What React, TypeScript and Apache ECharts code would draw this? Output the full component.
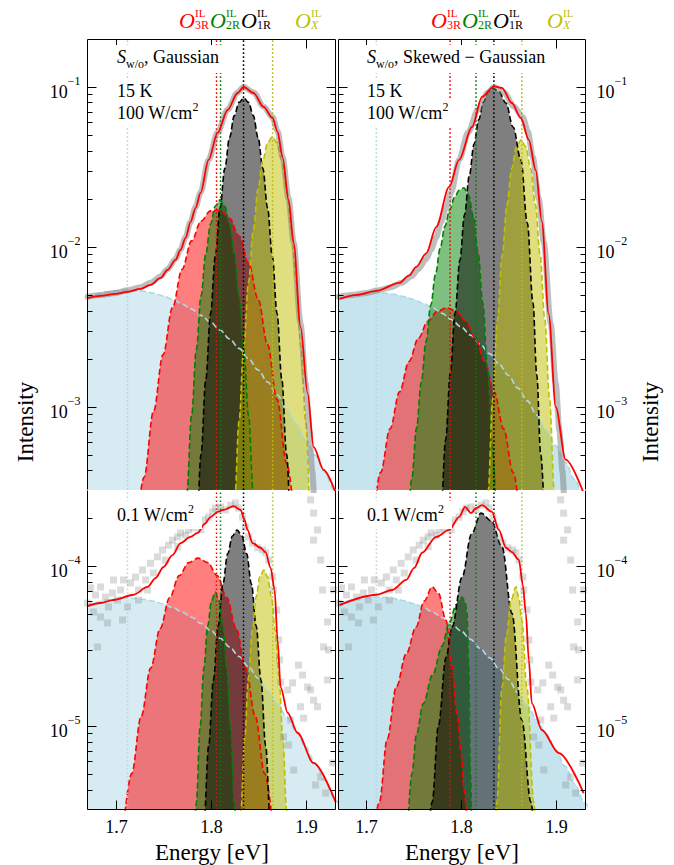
import React, { useEffect, useRef } from "react";
import * as echarts from "echarts";

const FONT = "'Liberation Serif', 'DejaVu Serif', serif";

// ---------------- axis ranges (eV, log10 intensity) ----------------
const X_MIN = 1.67;
const X_MAX = 1.932;
const TOP_MIN = -3.52;
const TOP_MAX = -0.7;
const BOT_MIN = -5.525;
const BOT_MAX = -3.525;

const X_TICKS = [1.7, 1.8, 1.9];
const X_LABELS = ["1.7", "1.8", "1.9"];
const TOP_DECADES = [-3, -2, -1];
const BOT_DECADES = [-5, -4];
const MINOR_MULT = [2, 3, 4, 5, 6, 7, 8, 9];

// reference energies (dotted lines): blue, O3R, O2R, O1R, OX
const leftLines = [1.7126, 1.8063, 1.8105, 1.8347, 1.8653];
const rightLines = [1.7105, 1.7884, 1.8158, 1.8347, 1.8642];

// ---------------- broad background component ----------------
const blueE = [1.67, 1.68, 1.69, 1.7, 1.71, 1.72, 1.73, 1.74, 1.75, 1.76, 1.77, 1.78, 1.79, 1.8, 1.81, 1.82, 1.83, 1.84, 1.85, 1.86, 1.87, 1.88, 1.89, 1.9, 1.91, 1.92, 1.93, 1.94];
const tlBlue = [4.82e-3, 5.05e-3, 5.22e-3, 5.33e-3, 5.38e-3, 5.36e-3, 5.28e-3, 5.14e-3, 4.94e-3, 4.69e-3, 4.40e-3, 4.08e-3, 3.73e-3, 3.38e-3, 3.02e-3, 2.66e-3, 2.32e-3, 2.00e-3, 1.70e-3, 1.43e-3, 1.19e-3, 9.74e-4, 7.89e-4, 6.31e-4, 4.99e-4, 3.90e-4, 3.01e-4, 2.30e-4];
const blBlue = [5.65e-5, 5.92e-5, 6.12e-5, 6.25e-5, 6.31e-5, 6.28e-5, 6.19e-5, 6.02e-5, 5.79e-5, 5.50e-5, 5.16e-5, 4.78e-5, 4.37e-5, 3.96e-5, 3.54e-5, 3.12e-5, 2.72e-5, 2.34e-5, 1.99e-5, 1.68e-5, 1.39e-5, 1.14e-5, 9.25e-6, 7.40e-6, 5.85e-6, 4.57e-6, 3.53e-6, 2.70e-6];
const trBlue = [4.67e-3, 4.88e-3, 5.03e-3, 5.12e-3, 5.16e-3, 5.13e-3, 5.04e-3, 4.89e-3, 4.69e-3, 4.44e-3, 4.15e-3, 3.84e-3, 3.50e-3, 3.16e-3, 2.81e-3, 2.47e-3, 2.15e-3, 1.85e-3, 1.57e-3, 1.31e-3, 1.09e-3, 8.88e-4, 7.17e-4, 5.72e-4, 4.51e-4, 3.51e-4, 2.70e-4, 2.05e-4];
const brBlue = [5.79e-5, 6.05e-5, 6.24e-5, 6.35e-5, 6.40e-5, 6.36e-5, 6.25e-5, 6.06e-5, 5.82e-5, 5.51e-5, 5.15e-5, 4.76e-5, 4.34e-5, 3.92e-5, 3.48e-5, 3.06e-5, 2.67e-5, 2.29e-5, 1.95e-5, 1.62e-5, 1.35e-5, 1.10e-5, 8.89e-6, 7.09e-6, 5.59e-6, 4.35e-6, 3.35e-6, 2.54e-6];

// ---------------- top-left (Gaussian, 100 W/cm2) ----------------
const tlRedE = [1.72, 1.73, 1.74, 1.75, 1.76, 1.77, 1.78, 1.79, 1.8, 1.81, 1.82, 1.83, 1.84, 1.85, 1.86, 1.87, 1.88, 1.89];
const tlRed = [1.23e-4, 3.63e-4, 9.38e-4, 2.12e-3, 4.18e-3, 7.23e-3, 1.09e-2, 1.45e-2, 1.68e-2, 1.70e-2, 1.51e-2, 1.17e-2, 7.94e-3, 4.72e-3, 2.45e-3, 1.11e-3, 4.44e-4, 1.55e-4];
const tlGreenE = [1.77, 1.775, 1.78, 1.785, 1.79, 1.795, 1.8, 1.805, 1.81, 1.815, 1.82, 1.825, 1.83, 1.835, 1.84, 1.845, 1.85];
const tlGreen = [7.83e-5, 2.86e-4, 8.79e-4, 2.27e-3, 4.94e-3, 9.05e-3, 1.39e-2, 1.80e-2, 1.97e-2, 1.80e-2, 1.39e-2, 9.05e-3, 4.94e-3, 2.27e-3, 8.79e-4, 2.86e-4, 7.83e-5];
const tlBlackE = [1.78, 1.785, 1.79, 1.795, 1.8, 1.805, 1.81, 1.815, 1.82, 1.825, 1.83, 1.835, 1.84, 1.845, 1.85, 1.855, 1.86, 1.865, 1.87, 1.875, 1.88, 1.885, 1.89];
const tlBlack = [4.01e-5, 1.52e-4, 5.05e-4, 1.48e-3, 3.83e-3, 8.73e-3, 1.75e-2, 3.10e-2, 4.83e-2, 6.62e-2, 8.01e-2, 8.53e-2, 8.01e-2, 6.62e-2, 4.83e-2, 3.10e-2, 1.75e-2, 8.73e-3, 3.83e-3, 1.48e-3, 5.05e-4, 1.52e-4, 4.01e-5];
const tlYellowE = [1.82, 1.825, 1.83, 1.835, 1.84, 1.845, 1.85, 1.855, 1.86, 1.865, 1.87, 1.875, 1.88, 1.885, 1.89, 1.895, 1.9, 1.905, 1.91];
const tlYellow = [5.64e-5, 2.33e-4, 8.15e-4, 2.41e-3, 6.04e-3, 1.28e-2, 2.30e-2, 3.49e-2, 4.48e-2, 4.87e-2, 4.48e-2, 3.49e-2, 2.30e-2, 1.28e-2, 6.04e-3, 2.41e-3, 8.15e-4, 2.33e-4, 5.64e-5];
const tlFitE = [1.6705, 1.6842, 1.7, 1.7126, 1.7263, 1.7368, 1.7474, 1.7547, 1.7632, 1.7684, 1.7737, 1.7789, 1.7842, 1.7895, 1.7979, 1.8074, 1.8179, 1.8284, 1.8347, 1.8453, 1.8558, 1.8653, 1.8705, 1.8758, 1.8821, 1.8874, 1.8947, 1.9021, 1.9084, 1.9189, 1.9316];
const tlFit = [4.79e-3, 4.94e-3, 5.08e-3, 5.24e-3, 5.46e-3, 5.79e-3, 6.40e-3, 7.18e-3, 8.30e-3, 9.57e-3, 1.14e-2, 1.43e-2, 1.75e-2, 2.18e-2, 3.50e-2, 5.16e-2, 7.18e-2, 9.17e-2, 1.0e-1, 9.17e-2, 7.50e-2, 6.40e-2, 5.25e-2, 3.63e-2, 1.97e-2, 1.06e-2, 3.16e-3, 1.22e-3, 5.62e-4, 4.04e-4, 2.90e-4];

// ---------------- top-right (skewed Gaussian, 100 W/cm2) ----------------
const trRedE = [1.695, 1.705, 1.715, 1.725, 1.735, 1.745, 1.755, 1.765, 1.775, 1.785, 1.795, 1.805, 1.815, 1.825, 1.835, 1.845, 1.855, 1.865, 1.875];
const trRed = [8.28e-5, 1.88e-4, 3.89e-4, 7.29e-4, 1.24e-3, 1.92e-3, 2.69e-3, 3.43e-3, 3.96e-3, 4.16e-3, 3.96e-3, 3.43e-3, 2.69e-3, 1.92e-3, 1.24e-3, 7.29e-4, 3.89e-4, 1.88e-4, 8.28e-5];
const trGreenE = [1.738, 1.743, 1.748, 1.753, 1.758, 1.763, 1.768, 1.773, 1.778, 1.783, 1.788, 1.793, 1.798, 1.803, 1.808, 1.813, 1.818, 1.823, 1.828, 1.833, 1.838];
const trGreen = [6.82e-5, 1.62e-4, 3.58e-4, 7.40e-4, 1.43e-3, 2.56e-3, 4.31e-3, 6.75e-3, 9.86e-3, 1.35e-2, 1.71e-2, 2.04e-2, 2.26e-2, 2.34e-2, 2.11e-2, 1.55e-2, 9.20e-3, 4.46e-3, 1.75e-3, 5.61e-4, 1.46e-4];
const trBlackE = [1.7737, 1.7787, 1.7837, 1.7887, 1.7937, 1.7987, 1.8037, 1.8087, 1.8137, 1.8187, 1.8237, 1.8287, 1.8337, 1.84, 1.8474, 1.855, 1.8632, 1.87, 1.876, 1.88, 1.8842, 1.889];
const trBlack = [6.70e-5, 2.15e-4, 6.22e-4, 1.63e-3, 3.85e-3, 8.24e-3, 1.59e-2, 2.78e-2, 4.39e-2, 6.25e-2, 8.05e-2, 9.38e-2, 9.86e-2, 9.33e-2, 7.94e-2, 5.62e-2, 3.50e-2, 1.41e-2, 4.47e-3, 1.58e-3, 5.01e-4, 1.41e-4];
const trYellowE = [1.8235, 1.8285, 1.8335, 1.8385, 1.8435, 1.8485, 1.8535, 1.8585, 1.8635, 1.8685, 1.8735, 1.8785, 1.8835, 1.8885, 1.8935, 1.8985, 1.9035];
const trYellow = [6.17e-5, 2.92e-4, 1.12e-3, 3.51e-3, 8.91e-3, 1.84e-2, 3.09e-2, 4.22e-2, 4.68e-2, 4.22e-2, 3.09e-2, 1.84e-2, 8.91e-3, 3.51e-3, 1.12e-3, 2.92e-4, 6.17e-5];
const trFitE = [1.6716, 1.69, 1.7105, 1.7347, 1.745, 1.7526, 1.7632, 1.7737, 1.7874, 1.7979, 1.8116, 1.8221, 1.8347, 1.8432, 1.8537, 1.8632, 1.8716, 1.8789, 1.8853, 1.8926, 1.9, 1.9105, 1.9295];
const trFit = [4.73e-3, 5.01e-3, 5.31e-3, 5.96e-3, 6.61e-3, 7.50e-3, 9.12e-3, 1.33e-2, 2.37e-2, 3.50e-2, 5.62e-2, 8.66e-2, 1.01e-1, 9.86e-2, 7.94e-2, 6.40e-2, 4.67e-2, 3.02e-2, 1.45e-2, 3.80e-3, 1.0e-3, 4.68e-4, 2.88e-4];

// ---------------- bottom-left (Gaussian, 0.1 W/cm2) ----------------
const blRedE = [1.707, 1.717, 1.727, 1.737, 1.747, 1.757, 1.767, 1.777, 1.787, 1.797, 1.807, 1.817, 1.827, 1.837, 1.847, 1.857, 1.867];
const blRed = [1.95e-6, 5.04e-6, 1.15e-5, 2.30e-5, 4.07e-5, 6.35e-5, 8.71e-5, 1.05e-4, 1.12e-4, 1.05e-4, 8.71e-5, 6.35e-5, 4.07e-5, 2.30e-5, 1.15e-5, 5.04e-6, 1.95e-6];
const blGreenE = [1.781, 1.785, 1.789, 1.793, 1.797, 1.801, 1.805, 1.809, 1.813, 1.817, 1.821, 1.825, 1.829];
const blGreen = [8.64e-7, 3.29e-6, 9.83e-6, 2.30e-5, 4.23e-5, 6.09e-5, 6.88e-5, 6.09e-5, 4.23e-5, 2.30e-5, 9.83e-6, 3.29e-6, 8.64e-7];
const blBlackE = [1.788, 1.793, 1.798, 1.803, 1.808, 1.813, 1.818, 1.823, 1.828, 1.833, 1.838, 1.843, 1.848, 1.853, 1.858, 1.863, 1.868];
const blBlack = [6.68e-7, 2.44e-6, 7.50e-6, 1.94e-5, 4.22e-5, 7.72e-5, 1.19e-4, 1.54e-4, 1.68e-4, 1.54e-4, 1.19e-4, 7.72e-5, 4.22e-5, 1.94e-5, 7.50e-6, 2.44e-6, 6.68e-7];
const blYellowE = [1.828, 1.832, 1.836, 1.84, 1.844, 1.848, 1.852, 1.856, 1.86, 1.864, 1.868, 1.872, 1.876, 1.88, 1.884];
const blYellow = [8.64e-7, 3.0e-6, 8.61e-6, 2.04e-5, 3.99e-5, 6.44e-5, 8.58e-5, 9.44e-5, 8.58e-5, 6.44e-5, 3.99e-5, 2.04e-5, 8.61e-6, 3.0e-6, 8.64e-7];
const blFitE = [1.6705, 1.6842, 1.6979, 1.7189, 1.7337, 1.7421, 1.7505, 1.76, 1.7684, 1.7789, 1.7863, 1.7937, 1.8, 1.8074, 1.8137, 1.8242, 1.8316, 1.8358, 1.8389, 1.8442, 1.8526, 1.8579, 1.8632, 1.8674, 1.8705, 1.8737, 1.8811, 1.8916, 1.9084, 1.9316];
const blFit = [5.62e-5, 5.87e-5, 6.13e-5, 6.61e-5, 7.40e-5, 8.41e-5, 9.86e-5, 1.17e-4, 1.39e-4, 1.52e-4, 1.61e-4, 1.83e-4, 2.02e-4, 2.18e-4, 2.24e-4, 2.37e-4, 2.24e-4, 1.94e-4, 1.68e-4, 1.39e-4, 1.30e-4, 1.22e-4, 9.72e-5, 7.08e-5, 3.45e-5, 1.75e-5, 1.21e-5, 9.04e-6, 5.87e-6, 3.35e-6];

// ---------------- bottom-right (skewed Gaussian, 0.1 W/cm2) ----------------
const brRedE = [1.705, 1.7137, 1.722, 1.7316, 1.742, 1.7526, 1.761, 1.7695, 1.776, 1.7842, 1.79, 1.796, 1.8, 1.8032, 1.808];
const brRed = [1.58e-6, 3.35e-6, 8.32e-6, 1.75e-5, 2.82e-5, 4.17e-5, 6.03e-5, 7.40e-5, 6.76e-5, 4.57e-5, 2.40e-5, 1.17e-5, 6.92e-6, 3.98e-6, 1.58e-6];
const brGreenE = [1.744, 1.748, 1.753, 1.76, 1.77, 1.78, 1.7874, 1.795, 1.8011, 1.8045, 1.8063, 1.808, 1.81, 1.812];
const brGreen = [2.51e-6, 5.01e-6, 8.91e-6, 1.38e-5, 2.09e-5, 3.16e-5, 4.41e-5, 5.75e-5, 6.40e-5, 5.89e-5, 5.08e-5, 2.51e-5, 5.01e-6, 1.0e-6];
const brBlackE = [1.762, 1.7695, 1.776, 1.7842, 1.7905, 1.8011, 1.811, 1.8211, 1.832, 1.8432, 1.8537, 1.8642, 1.8737, 1.88];
const brBlack = [1.0e-6, 3.35e-6, 1.0e-5, 2.69e-5, 4.17e-5, 8.51e-5, 1.58e-4, 2.14e-4, 1.91e-4, 1.32e-4, 5.08e-5, 1.09e-5, 3.35e-6, 1.26e-6];
const brYellowE = [1.834, 1.8379, 1.8432, 1.848, 1.853, 1.858, 1.861, 1.8642, 1.8695, 1.8768, 1.881];
const brYellow = [1.0e-6, 3.35e-6, 1.75e-5, 3.72e-5, 6.17e-5, 7.40e-5, 6.31e-5, 4.60e-5, 1.75e-5, 3.35e-6, 1.0e-6];
const brFitE = [1.6716, 1.7105, 1.7274, 1.7421, 1.7505, 1.7589, 1.7737, 1.7874, 1.7979, 1.8042, 1.8105, 1.8158, 1.8221, 1.8326, 1.84, 1.8474, 1.8537, 1.8611, 1.8653, 1.8684, 1.8716, 1.8747, 1.8853, 1.9032, 1.9295];
const brFit = [5.70e-5, 6.61e-5, 7.08e-5, 8.18e-5, 9.72e-5, 1.21e-4, 1.52e-4, 1.68e-4, 2.02e-4, 2.34e-4, 2.14e-4, 2.30e-4, 2.40e-4, 2.18e-4, 1.68e-4, 1.30e-4, 1.22e-4, 1.09e-4, 7.59e-5, 5.08e-5, 2.59e-5, 1.39e-5, 9.44e-6, 6.78e-6, 3.81e-6];

// ---------------- measured spectra ----------------
const topDataE = [1.6705, 1.6842, 1.7, 1.7126, 1.7263, 1.7368, 1.7474, 1.7547, 1.7632, 1.7684, 1.7737, 1.7789, 1.7842, 1.7895, 1.7979, 1.8074, 1.8179, 1.8284, 1.8347, 1.8453, 1.8558, 1.8653, 1.8705, 1.8758, 1.8821, 1.8874, 1.8947, 1.9, 1.904, 1.907, 1.909];
const topData = [4.88e-3, 5.01e-3, 5.15e-3, 5.35e-3, 5.60e-3, 5.96e-3, 6.53e-3, 7.24e-3, 8.41e-3, 9.66e-3, 1.15e-2, 1.43e-2, 1.77e-2, 2.19e-2, 3.50e-2, 5.19e-2, 7.21e-2, 9.23e-2, 1.0e-1, 9.23e-2, 7.55e-2, 6.46e-2, 5.31e-2, 3.63e-2, 2.0e-2, 1.07e-2, 3.31e-3, 1.41e-3, 7.08e-4, 3.98e-4, 2.51e-4];
const lowE = [1.6737, 1.6789, 1.6842, 1.6895, 1.6705, 1.6768, 1.6842, 1.6926, 1.6968, 1.7021, 1.7053, 1.7084, 1.6979, 1.7126, 1.7074, 1.6916, 1.6811, 1.7158, 1.7211, 1.7242, 1.7284, 1.7316, 1.7368, 1.74, 1.7442, 1.7495, 1.7526, 1.7558, 1.7242, 1.7337, 1.76, 1.7653, 1.7684, 1.7737, 1.7768, 1.7653, 1.7821, 1.7874, 1.7926, 1.7979, 1.8021, 1.7895, 1.8053, 1.8105, 1.8158, 1.8211, 1.8263, 1.8295, 1.8337, 1.8368, 1.84, 1.8442, 1.8495, 1.8547, 1.8579, 1.8611, 1.8653, 1.8663, 1.8695, 1.8716, 1.8726, 1.8737, 1.8811, 1.8863, 1.8926, 1.8968, 1.9021, 1.9053, 1.8947, 1.8979, 1.9084, 1.9126, 1.9232, 1.9242, 1.8842, 1.8768, 1.8821, 1.8874, 1.9158, 1.9105, 1.9211, 1.9284, 1.9053, 1.9084, 1.9126, 1.9084, 1.9158, 1.9179, 1.9232, 1.9189, 1.9295];
const lowI = [7.29e-5, 6.59e-5, 7.40e-5, 6.40e-5, 5.87e-5, 5.16e-5, 4.80e-5, 5.55e-5, 6.78e-5, 6.13e-5, 7.08e-5, 8.18e-5, 8.18e-5, 5.55e-5, 4.60e-5, 4.41e-5, 3.12e-5, 7.83e-5, 8.53e-5, 7.08e-5, 9.44e-5, 8.18e-5, 1.04e-4, 9.04e-5, 1.14e-4, 1.26e-4, 1.09e-4, 1.35e-4, 6.13e-5, 7.08e-5, 1.45e-4, 1.52e-4, 1.61e-4, 1.56e-4, 1.68e-4, 1.32e-4, 1.73e-4, 1.86e-4, 1.94e-4, 2.02e-4, 2.18e-4, 1.68e-4, 2.30e-4, 2.34e-4, 2.24e-4, 2.40e-4, 2.48e-4, 2.30e-4, 2.02e-4, 1.75e-4, 1.52e-4, 1.39e-4, 1.30e-4, 1.26e-4, 1.21e-4, 1.09e-4, 8.53e-5, 7.08e-5, 5.31e-5, 3.45e-5, 2.59e-5, 1.88e-5, 1.68e-5, 1.86e-5, 2.40e-5, 2.08e-5, 1.75e-5, 1.68e-5, 1.32e-5, 1.12e-5, 1.45e-5, 1.32e-5, 1.94e-5, 2.99e-5, 1.09e-5, 8.53e-6, 7.60e-6, 5.31e-6, 4.80e-6, 4.28e-6, 3.81e-6, 5.87e-6, 2.59e-4, 2.14e-4, 1.68e-4, 1.45e-4, 1.09e-4, 7.08e-5, 4.47e-5, 3.12e-5, 7.08e-5];

// ---------------- styling ----------------
const COLORS: any = { blue: "#add8e6", red: "#ff0000", green: "#008000", black: "#000000", yellow: "#bfbf00" };
const ORDER = ["blue", "red", "green", "black", "yellow"];

const PANELS: any[] = [
  {
    left: 87, top: 39, width: 249, height: 451, ymin: TOP_MIN, ymax: TOP_MAX, isTop: true, isLeft: true, blueAlpha: 0.5,
    comps: { blue: [blueE, tlBlue], red: [tlRedE, tlRed], green: [tlGreenE, tlGreen], black: [tlBlackE, tlBlack], yellow: [tlYellowE, tlYellow] },
    fit: [tlFitE, tlFit], data: [topDataE, topData], lines: leftLines,
  },
  {
    left: 338, top: 39, width: 248, height: 451, ymin: TOP_MIN, ymax: TOP_MAX, isTop: true, isLeft: false, blueAlpha: 0.7,
    comps: { blue: [blueE, trBlue], red: [trRedE, trRed], green: [trGreenE, trGreen], black: [trBlackE, trBlack], yellow: [trYellowE, trYellow] },
    fit: [trFitE, trFit], data: [topDataE, topData], lines: rightLines,
  },
  {
    left: 87, top: 490, width: 249, height: 320, ymin: BOT_MIN, ymax: BOT_MAX, isTop: false, isLeft: true, blueAlpha: 0.5,
    comps: { blue: [blueE, blBlue], red: [blRedE, blRed], green: [blGreenE, blGreen], black: [blBlackE, blBlack], yellow: [blYellowE, blYellow] },
    fit: [blFitE, blFit], data: [lowE, lowI], lines: leftLines,
  },
  {
    left: 338, top: 490, width: 248, height: 320, ymin: BOT_MIN, ymax: BOT_MAX, isTop: false, isLeft: false, blueAlpha: 0.7,
    comps: { blue: [blueE, brBlue], red: [brRedE, brRed], green: [brGreenE, brGreen], black: [brBlackE, brBlack], yellow: [brYellowE, brYellow] },
    fit: [brFitE, brFit], data: [lowE, lowI], lines: rightLines,
  },
];

const toPts = (E: number[], V: number[]) => E.map((e, i) => [e, Math.log10(V[i])]);

function decoSeries(gi: number, p: any) {
  const items: number[][] = [];
  (p.isTop ? TOP_DECADES : BOT_DECADES).forEach((d) => items.push([d, 1]));
  for (let n = Math.floor(p.ymin); n < Math.ceil(p.ymax); n++) {
    MINOR_MULT.forEach((m) => {
      const v = n + Math.log10(m);
      if (v > p.ymin + 0.012 && v < p.ymax - 0.012) items.push([v, 0]);
    });
  }
  X_TICKS.forEach((x) => items.push([x, 2]));
  items.push([0, 3]);
  return {
    type: "custom",
    xAxisIndex: gi,
    yAxisIndex: gi,
    silent: true,
    clip: false,
    z: 20,
    data: items,
    renderItem: (params: any, api: any) => {
      const v = api.value(0);
      const kind = api.value(1);
      const a = api.coord([X_MIN, p.ymax]);
      const b = api.coord([X_MAX, p.ymin]);
      const L = Math.round(a[0]) + 0.5;
      const R = Math.round(b[0]) - 0.5;
      const T = Math.round(a[1]) + 0.5;
      const B = Math.round(b[1]) - 0.5;
      const st = { stroke: "#000", lineWidth: 1 };
      const ln = (x1: number, y1: number, x2: number, y2: number) => ({ type: "line", shape: { x1, y1, x2, y2 }, style: st });
      const children: any[] = [];
      if (kind === 3) {
        children.push(ln(L, T, L, B), ln(R, T, R, B));
        if (p.isTop) children.push(ln(L, T, R, T));
        else children.push(ln(L, B, R, B));
      } else if (kind === 0 || kind === 1) {
        const y = Math.round(api.coord([X_MIN, v])[1]) + 0.5;
        const len = kind === 1 ? 9 : 5;
        children.push(ln(L, y, L + len, y), ln(R - len, y, R, y));
        if (kind === 1) {
          const txt = "{b|10}{s|\u2212" + Math.abs(Math.round(v)) + "}";
          children.push({
            type: "text",
            x: p.isLeft ? L - 7 : R + 11,
            y: y,
            style: {
              text: txt, fill: "#000", fontFamily: FONT, fontSize: 18,
              align: p.isLeft ? "right" : "left", verticalAlign: "middle",
              rich: {
                b: { fontSize: 18, fontFamily: FONT, lineHeight: 26, verticalAlign: "bottom", fill: "#000" },
                s: { fontSize: 12, fontFamily: FONT, lineHeight: 14, verticalAlign: "top", fill: "#000" },
              },
            },
          });
        }
      } else if (kind === 2) {
        const x = Math.round(api.coord([v, p.ymin])[0]) + 0.5;
        let idx = 0;
        X_TICKS.forEach((t, i) => { if (Math.abs(t - v) < 1e-6) idx = i; });
        if (p.isTop) children.push(ln(x, T, x, T + 9));
        else {
          children.push(ln(x, B - 9, x, B));
          children.push({
            type: "text", x: x, y: B + 17,
            style: { text: X_LABELS[idx], fill: "#000", fontFamily: FONT, fontSize: 18, align: "center", verticalAlign: "middle" },
          });
        }
      }
      return { type: "group", children };
    },
  };
}

function gtext(x: number, y: number, text: string, o: any = {}) {
  const align = o.align || "left";
  const va = o.va || "middle";
  const style: any = {
    text, fill: o.fill || "#000", fontFamily: FONT, fontSize: o.size || 18,
    fontStyle: o.italic ? "italic" : "normal",
    align, verticalAlign: va, textAlign: align, textVerticalAlign: va,
  };
  if (o.lh) style.lineHeight = o.lh;
  if (o.rich) style.rich = o.rich;
  return { type: "text", x, y, z: 100, rotation: o.rot || 0, style };
}
const wrect = (x: number, y: number, w: number, h: number) => ({ type: "rect", z: 99, shape: { x, y, width: w, height: h }, style: { fill: "#fff" } });

function buildOption() {
  const grid: any[] = [];
  const xAxis: any[] = [];
  const yAxis: any[] = [];
  const series: any[] = [];
  PANELS.forEach((p, gi) => {
    grid.push({ left: p.left, top: p.top, width: p.width, height: p.height, show: false });
    xAxis.push({ type: "value", gridIndex: gi, min: X_MIN, max: X_MAX, show: false });
    yAxis.push({ type: "value", gridIndex: gi, min: p.ymin, max: p.ymax, show: false });
    const base = { xAxisIndex: gi, yAxisIndex: gi, silent: true, symbol: "none", showSymbol: false, animation: false };
    ORDER.forEach((c) => {
      const [E, V] = p.comps[c];
      series.push({
        ...base, type: "line", data: toPts(E, V), smooth: 0.35, smoothMonotone: "x",
        lineStyle: { width: 0, opacity: 0 },
        areaStyle: { color: COLORS[c], opacity: c === "blue" ? p.blueAlpha : 0.5, origin: "start" },
        z: 2,
      });
    });
    ORDER.forEach((c) => {
      const [E, V] = p.comps[c];
      series.push({
        ...base, type: "line", data: toPts(E, V), smooth: 0.35, smoothMonotone: "x",
        lineStyle: { color: COLORS[c], width: 1.6, type: [6, 3] },
        z: 3,
      });
    });
    p.lines.forEach((e: number, i: number) => {
      series.push({
        ...base, type: "line", data: [[e, p.ymin - 1], [e, p.ymax + 1]],
        lineStyle: { color: COLORS[ORDER[i]], width: 1.5, type: [1.6, 2.4] },
        z: 4,
      });
    });
    const [DE, DV] = p.data;
    if (p.isTop) {
      series.push({
        ...base, type: "line", data: toPts(DE, DV), smooth: 0.3, smoothMonotone: "x",
        lineStyle: { color: "rgba(125,125,125,0.5)", width: 6, cap: "round", join: "round" },
        z: 5,
      });
    } else {
      series.push({
        ...base, type: "scatter", data: toPts(DE, DV), symbol: "rect", symbolSize: 7,
        itemStyle: { color: "rgba(128,128,128,0.36)" },
        z: 5,
      });
    }
    const [FE, FV] = p.fit;
    series.push({
      ...base, type: "line", data: toPts(FE, FV), smooth: 0.3, smoothMonotone: "x",
      lineStyle: { color: "#ff0000", width: 1.8 },
      z: 6,
    });
    series.push(decoSeries(gi, p));
  });

  const sup = { fontSize: 12, fontFamily: FONT, lineHeight: 14, verticalAlign: "top" };
  const elements: any[] = [];
  const heads = [
    { sub: "3R", color: "#ff0000", dx: 0 },
    { sub: "2R", color: "#008000", dx: 31 },
    { sub: "1R", color: "#000000", dx: 62 },
    { sub: "X", color: "#bfbf00", dx: 116, italic: true },
  ];
  [179, 431].forEach((x0) => {
    heads.forEach((h) => {
      elements.push(gtext(x0 + h.dx, 20, "O", { italic: true, size: 22, fill: h.color }));
      elements.push(gtext(x0 + h.dx + 16, 13, "IL", { size: 11, fill: h.color }));
      elements.push(gtext(x0 + h.dx + 16, 25, h.sub, { size: 12, fill: h.color, italic: !!h.italic }));
    });
  });
  const subRich = {
    i: { fontSize: 18, fontFamily: FONT, fontStyle: "italic", lineHeight: 26 },
    sub: { fontSize: 12, fontFamily: FONT, lineHeight: 12, verticalAlign: "bottom" },
  };
  elements.push(wrect(111, 45, 121, 28));
  elements.push(gtext(117, 57, "{i|S}{sub|w/o}, Gaussian", { lh: 26, rich: subRich }));
  elements.push(wrect(361, 45, 192, 28));
  elements.push(gtext(367, 57, "{i|S}{sub|w/o}, Skewed \u2212 Gaussian", { lh: 26, rich: subRich }));
  [117, 367].forEach((x) => {
    elements.push(wrect(x - 5, 80, 42, 21));
    elements.push(gtext(x, 91, "15 K", {}));
    elements.push(wrect(x - 5, 100, 90, 28));
    elements.push(gtext(x, 113, "100 W/cm{s|2}", { lh: 24, rich: { s: sup } }));
    elements.push(wrect(x - 5, 501, 90, 28));
    elements.push(gtext(x, 515, "0.1 W/cm{s|2}", { lh: 24, rich: { s: sup } }));
  });
  elements.push(gtext(212, 852, "Energy [eV]", { size: 23, align: "center" }));
  elements.push(gtext(462, 852, "Energy [eV]", { size: 23, align: "center" }));
  elements.push(gtext(25, 422, "Intensity", { size: 23, align: "center", rot: Math.PI / 2 }));
  elements.push(gtext(650, 422, "Intensity", { size: 23, align: "center", rot: Math.PI / 2 }));

  return {
    animation: false,
    backgroundColor: "#ffffff",
    grid, xAxis, yAxis, series,
    graphic: { elements },
  };
}

export default function App() {
  const ref = useRef<HTMLDivElement>(null);
  useEffect(() => {
    if (!ref.current) return;
    const chart = echarts.init(ref.current, null, { renderer: "svg" });
    chart.setOption(buildOption() as any);
    return () => chart.dispose();
  }, []);
  return <div ref={ref} style={{ position: "absolute", left: 0, top: 0, width: 674, height: 865, background: "#fff" }} />;
}
